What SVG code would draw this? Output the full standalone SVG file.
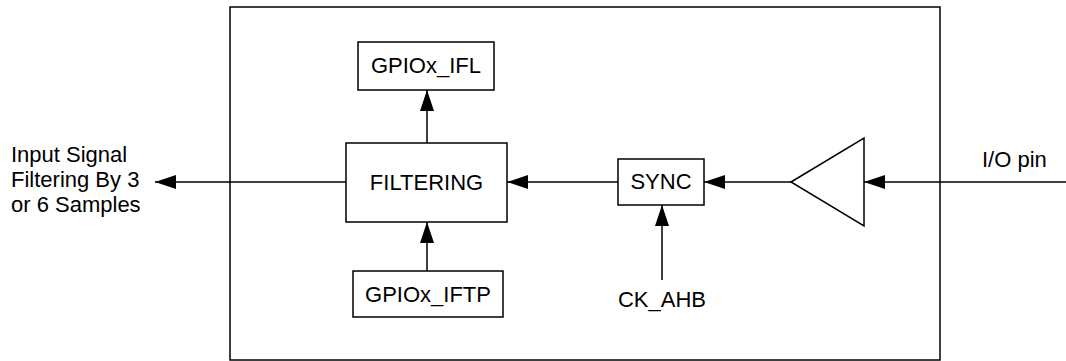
<svg xmlns="http://www.w3.org/2000/svg" width="1066" height="361" viewBox="0 0 1066 361">
<defs>
<style>
.box{fill:#fff;stroke:#000;stroke-width:1.5}
.ln{fill:none;stroke:#000;stroke-width:1.5}
text{font-family:"Liberation Sans",Arial,sans-serif;font-size:22px;fill:#000}
.c{text-anchor:middle}
</style>
<marker id="ah" markerUnits="userSpaceOnUse" markerWidth="22" markerHeight="16" refX="21" refY="7" orient="auto">
<path d="M0,0 L21,7 L0,14 Z" fill="#000"/>
</marker>
</defs>
<g id="frame"><rect class="box" x="230" y="7" width="710" height="353" fill="none"/></g>
<g id="connectors">
<line class="ln" x1="346" y1="182" x2="155" y2="182" marker-end="url(#ah)"/>
<line class="ln" x1="427" y1="143" x2="427" y2="90" marker-end="url(#ah)"/>
<line class="ln" x1="427" y1="271" x2="427" y2="222" marker-end="url(#ah)"/>
<line class="ln" x1="618" y1="182" x2="507" y2="182" marker-end="url(#ah)"/>
<line class="ln" x1="791" y1="182" x2="704" y2="182" marker-end="url(#ah)"/>
<line class="ln" x1="662" y1="280" x2="662" y2="205" marker-end="url(#ah)"/>
<line class="ln" x1="1066" y1="182" x2="864" y2="182" marker-end="url(#ah)"/>
</g>
<g id="filtering"><rect class="box" x="346" y="143" width="161" height="79"/><text class="c" x="426.5" y="190">FILTERING</text></g>
<g id="ifl"><rect class="box" x="358" y="42" width="136" height="48"/><text class="c" x="426" y="73">GPIOx_IFL</text></g>
<g id="iftp"><rect class="box" x="353" y="271" width="150" height="46"/><text class="c" x="428" y="302">GPIOx_IFTP</text></g>
<g id="sync"><rect class="box" x="618" y="159" width="86" height="46"/><text class="c" x="661" y="189">SYNC</text></g>
<g id="buffer"><path class="box" d="M791,182 L864,138 L864,226 Z"/></g>
<g id="labels">
<text x="11" y="162">Input Signal</text>
<text x="11" y="187">Filtering By 3</text>
<text x="11" y="212">or 6 Samples</text>
<text class="c" x="662" y="307">CK_AHB</text>
<text x="982" y="167">I/O pin</text>
</g>
</svg>
